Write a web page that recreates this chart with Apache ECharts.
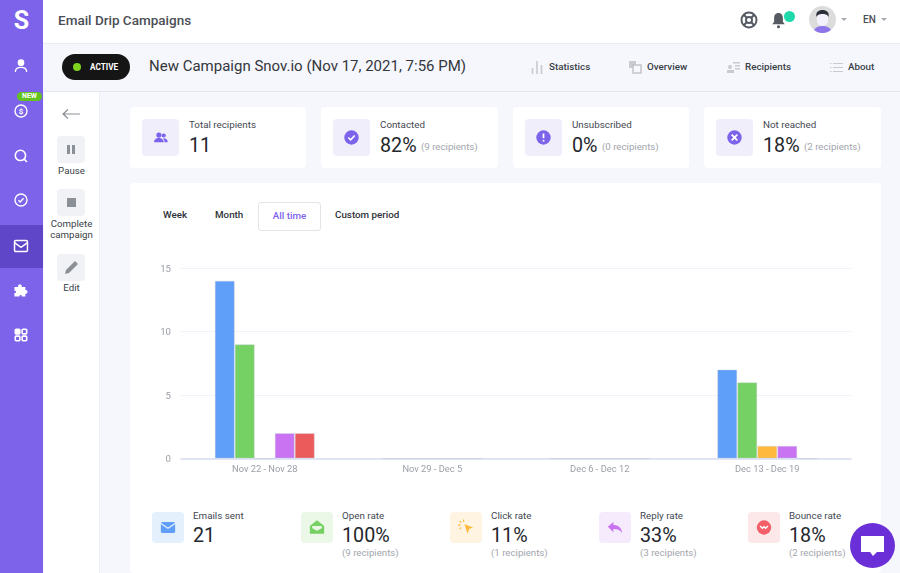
<!DOCTYPE html>
<html>
<head>
<meta charset="utf-8">
<title>Email Drip Campaigns</title>
<script src="https://cdn.jsdelivr.net/npm/echarts@6/dist/echarts.min.js"></script>
<style>
  html, body { margin: 0; padding: 0; width: 900px; height: 573px; overflow: hidden; background: #f6f7fd; font-family: Roboto, sans-serif; color: #2b2f36; }
  .abs, .abs * { box-sizing: border-box; }
  .abs { position: absolute; white-space: nowrap; }
  .abs svg { display: block; }
  .side { left: 0; top: 0; width: 43px; height: 573px; background: #7d63ea; }
  .side svg { position: absolute; left: 13px; width: 16px; height: 16px; }
  .head { left: 43px; top: 0; width: 857px; height: 44px; background: #fff; border-bottom: 1px solid #e8eaf2; }
  .sub { left: 43px; top: 44px; width: 857px; height: 48px; border-bottom: 1px solid #e4e6ee; }
  .acts { left: 44px; top: 92px; width: 56px; height: 481px; background: #fff; border-right: 1px solid #eceef5; }
  .btn { left: 57px; width: 28px; height: 27px; background: #f1f2f6; border-radius: 4px; }
  .lbl { font-size: 9.7px; line-height: 11px; text-align: center; left: 44px; width: 55px; color: #3a3f47; }
  .nav { font-size: 9.8px; font-weight: 500; color: #3a3f47; top: 61px; }
  .card { background: #fff; border-radius: 4px; }
  .box { border-radius: 4px; }
  .ttl { font-size: 9.8px; color: #444952; }
  .val { font-size: 19.7px; color: #24272c; }
  .note { font-size: 9.7px; color: #a2a6ad; }
  #chart { position: absolute; left: 130px; top: 183px; width: 751px; height: 390px; }
</style>
</head>
<body>
<div id="page"></div>
<div id="chart"></div>
<script>
// chart data
const weeks = ['Nov 22 - Nov 28', 'Nov 29 - Dec 5', 'Dec 6 - Dec 12', 'Dec 13 - Dec 19'];
const emailsSent = [14, 0, 0, 7];
const opened = [9, 0, 0, 6];
const clicked = [0, 0, 0, 1];
const replied = [2, 0, 0, 1];
const bounced = [2, 0, 0, 0];
const seriesNames = ['Emails sent', 'Open rate', 'Click rate', 'Reply rate', 'Bounce rate'];
const seriesColors = ['#5f9ef9', '#76d164', '#ffb93d', '#c973f2', '#ec5b5b'];
const yTicks = [0, 5, 10, 15];

// stat cards
const topTitles = ['Total recipients', 'Contacted', 'Unsubscribed', 'Not reached'];
const topValues = ['11', '82%', '0%', '18%'];
const topNotes = ['', '(9 recipients)', '(0 recipients)', '(2 recipients)'];
const bottomValues = ['21', '100%', '11%', '33%', '18%'];
const bottomNotes = ['', '(9 recipients)', '(1 recipients)', '(3 recipients)', '(2 recipients)'];

const page = document.getElementById('page');
function add(cls, style, html) {
  const el = document.createElement('div');
  el.className = 'abs ' + cls;
  el.style.cssText = style;
  el.innerHTML = html || '';
  page.appendChild(el);
  return el;
}

// sidebar
add('side', '', `
  <div style="position:absolute;left:0;top:225px;width:43px;height:43px;background:#5f45c8"></div>
  <div style="position:absolute;left:0;top:0;width:43px;text-align:center;font:700 25px/41px Roboto;color:#fff">S</div>
  <svg style="top:58px" viewBox="0 0 24 24" fill="none" stroke="#fff" stroke-width="2"><circle cx="12" cy="7" r="4" fill="#fff"/><path d="M3.5 21c0-5 4-7 8.5-7s8.5 2 8.5 7"/></svg>
  <div style="position:absolute;left:17px;top:92px;width:25px;height:9px;background:#62c21e;border-radius:5px;color:#fff;font:700 7px/9px Roboto;text-align:center">NEW</div>
  <svg style="top:103px" viewBox="-2 -2 28 28" fill="none" stroke="#fff" stroke-width="2.4"><circle cx="12" cy="12" r="10.5"/><text x="12" y="17" text-anchor="middle" font-size="14" font-weight="700" fill="#fff" stroke="none" font-family="Roboto">$</text></svg>
  <svg style="top:148px" viewBox="-2 -2 28 28" fill="none" stroke="#fff" stroke-width="2.8"><circle cx="11" cy="11" r="9"/><path d="M17.5 17.5l5 5"/></svg>
  <svg style="top:192px" viewBox="-2 -2 28 28" fill="none" stroke="#fff" stroke-width="2.4"><circle cx="12" cy="12" r="10.5"/><path d="M7.5 12.5l3 3 6-6.500"/></svg>
  <svg style="top:238px" viewBox="-1 -1 26 26" fill="none" stroke="#fff" stroke-width="2.4"><rect x="1.5" y="3" width="21" height="18" rx="2"/><path d="M2 7l10 7 10-7"/></svg>
  <svg style="top:282px" viewBox="1 1 22 22" fill="#fff"><path d="M3 8h5c-1-5 6-5 5 0h5v4c4-1 4 6 0 5v4h-5c1-3-4-3-3 0H3v-5c3 1 3-4 0-3z"/></svg>
  <svg style="top:327px" viewBox="-2 -2 28 28" fill="none" stroke="#fff" stroke-width="2.8"><rect x="2" y="2" width="8" height="8" rx="1.5" fill="#fff"/><rect x="14" y="2" width="8" height="8" rx="1.5"/><rect x="2" y="14" width="8" height="8" rx="1.5"/><rect x="14" y="14" width="8" height="8" rx="1.5"/></svg>
`);

// header
add('head', '');
add('', 'left:58px;top:12px;font:500 13.5px/17px Roboto;color:#4b4e55', 'Email Drip Campaigns');
add('', 'left:740px;top:11px;width:18px;height:18px', '<svg width="18" height="18" viewBox="0 0 24 24" fill="none" stroke="#555a63" stroke-width="2.6"><circle cx="12" cy="12" r="10"/><circle cx="12" cy="12" r="4"/><path d="M5 5l4 4M19 5l-4 4M5 19l4-4M19 19l-4-4"/></svg>');
add('', 'left:771px;top:12px;width:15px;height:17px', '<svg width="15" height="17" viewBox="0 0 24 26" fill="#555a63"><path d="M12 1c5 0 7 4 7 8v6l3 4H2l3-4V9c0-4 2-8 7-8z"/><circle cx="12" cy="23" r="2.5"/></svg>');
add('', 'left:784px;top:11px;width:11px;height:11px;border-radius:50%;background:#1fd9aa');
add('', 'left:809px;top:6px;width:27px;height:27px', '<svg width="27" height="27" viewBox="0 0 27 27"><defs><clipPath id="av"><circle cx="13.5" cy="13.5" r="13.5"/></clipPath></defs><g clip-path="url(#av)"><rect width="27" height="27" fill="#dcdcdc"/><ellipse cx="13.5" cy="25" rx="8.5" ry="5" fill="#8f75ea"/><rect x="8" y="6" width="11" height="14" rx="5" fill="#f3f1fb"/><path d="M7.5 11c-1-5 2-7 6-7s7 2 6 7c-1-2-2-3-6-3s-5 1-6 3z" fill="#2b2f3a"/></g></svg>');
add('', 'left:841px;top:18px;width:0;height:0;border:3px solid transparent;border-top:3px solid #a4a7ae');
add('', 'left:863px;top:13px;font:500 10px/14px Roboto;color:#4a4e55', 'EN');
add('', 'left:881px;top:18px;width:0;height:0;border:3px solid transparent;border-top:3px solid #a4a7ae');

// campaign bar
add('sub', '');
add('', 'left:62px;top:54px;width:68px;height:26px;border-radius:13px;background:#151515;color:#fff;font:700 8.2px/26px Roboto;padding-left:28px', 'ACTIVE');
add('', 'left:73px;top:63px;width:8px;height:8px;border-radius:50%;background:#7ed321');
add('', 'left:149px;top:56px;font:400 15px/20px Roboto;color:#33363c', 'New Campaign Snov.io (Nov 17, 2021, 7:56 PM)');
const navLabels = ['Statistics', 'Overview', 'Recipients', 'About'];
const navX = [549, 647, 745, 848];
navLabels.forEach((t, i) => add('nav', `left:${navX[i]}px`, t));
add('', 'left:531px;top:60px', '<svg width="12" height="14" stroke="#c8cacf" stroke-width="1.6"><path d="M1.5 14V8M6 14V1M10.5 14V5"/></svg>');
add('', 'left:629px;top:61px', '<svg width="13" height="13" fill="none"><rect x="0" y="0" width="7" height="7" fill="#c8cacf"/><rect x="4" y="4" width="8" height="8" fill="#f6f7fd" stroke="#bfc1c7" stroke-width="1.4"/></svg>');
add('', 'left:727px;top:62px', '<svg width="13" height="11" fill="#c8cacf"><circle cx="3" cy="5" r="2"/><rect x="0" y="8" width="7" height="3"/><rect x="6" y="0" width="7" height="1.5"/><rect x="8" y="3" width="5" height="1.5"/><rect x="8" y="6" width="5" height="1.5"/></svg>');
add('', 'left:830px;top:62px', '<svg width="13" height="11" stroke="#c8cacf" stroke-width="1.2"><path d="M3 1.5h10M3 5.5h10M3 9.5h10M0 1.5h1.5M0 5.5h1.5M0 9.5h1.5"/></svg>');

// action column
add('acts', '');
add('', 'left:62px;top:108px', '<svg width="18" height="12" fill="none" stroke="#8b8f96" stroke-width="1.2"><path d="M18 6H1M6 1.5L1 6l5 4.5"/></svg>');
add('btn', 'top:136px', '<svg width="28" height="27" fill="#8b8f96"><rect x="10" y="9" width="3" height="9"/><rect x="15" y="9" width="3" height="9"/></svg>');
add('lbl', 'top:165px', 'Pause');
add('btn', 'top:189px', '<svg width="28" height="27" fill="#8b8f96"><rect x="10" y="9" width="9" height="9"/></svg>');
add('lbl', 'top:218px', 'Complete<br>campaign');
add('btn', 'top:254px', '<svg width="28" height="27" viewBox="0 0 28 27" fill="#8b8f96"><path d="M8 20l1-4 9-9 3 3-9 9z"/></svg>');
add('lbl', 'top:282px', 'Edit');

// top cards
const cardX = [130, 321, 513, 704];
const cardW = [176, 177, 176, 177];
const noteOffset = [0, 100, 89, 100];
const topGlyphs = [
  '<circle cx="10" cy="9" r="3.2" fill="#7d63ea"/><circle cx="16" cy="9.5" r="2.6" fill="#7d63ea"/><path d="M4 18c0-7 12-7 12 0zM17 18c0-3-1-4-2-5 3-.5 6 1 6 5z" fill="#7d63ea"/>',
  '<circle cx="12" cy="12" r="9" fill="#7d63ea"/><path d="M8 12l3 3 5-5.5" fill="none" stroke="#fff" stroke-width="2"/>',
  '<circle cx="12" cy="12" r="9" fill="#7d63ea"/><path d="M12 7v6M12 15v2" stroke="#fff" stroke-width="2.2"/>',
  '<circle cx="12" cy="12" r="9" fill="#7d63ea"/><path d="M8.5 8.5l7 7M15.5 8.5l-7 7" stroke="#fff" stroke-width="2.2"/>'
];
cardX.forEach((x, i) => {
  add('card', `left:${x}px;top:107px;width:${cardW[i]}px;height:61px`);
  add('box', `left:${x + 12}px;top:119px;width:37px;height:37px;background:#f0eefb`,
    `<svg width="37" height="37" viewBox="-11 -11 46 46">${topGlyphs[i]}</svg>`);
  add('ttl', `left:${x + 59}px;top:118px;line-height:14px`, topTitles[i]);
  add('val', `left:${x + 59}px;top:134px;line-height:23px`, topValues[i]);
  if (topNotes[i]) {
    add('note', `left:${x + noteOffset[i]}px;top:140px;line-height:13px`, topNotes[i]);
  }
});

// chart card and period tabs
add('card', 'left:130px;top:183px;width:751px;height:390px');
add('', 'left:163px;top:208px;font:500 9.8px/14px Roboto;color:#2e3138', 'Week');
add('', 'left:215px;top:208px;font:500 9.8px/14px Roboto;color:#2e3138', 'Month');
add('', 'left:258px;top:202px;width:63px;height:29px;background:#fff;border:1px solid #e2e4ea;border-radius:3px;text-align:center;font:500 9.8px/26px Roboto;color:#7d63ea', 'All time');
add('', 'left:335px;top:208px;font:500 9.8px/14px Roboto;color:#2e3138', 'Custom period');

// bottom stats
const statX = [152, 301, 450, 599, 748];
const statBg = ['#e5f0fd', '#ebf8e8', '#fff4e2', '#f6eafd', '#fce8e8'];
const statGlyphs = [
  '<rect x="3" y="5" width="18" height="14" rx="2" fill="#5f9ef9"/><path d="M3 7l9 6 9-6" fill="none" stroke="#e5f0fd" stroke-width="1.4"/>',
  '<path d="M3 10l9-7 9 7v10H3z" fill="#76d164"/><path d="M6 10h12v3l-6 3-6-3z" fill="#ebf8e8"/>',
  '<path d="M10 8l11 4-5 2-2 6z" fill="#ffb93d"/><path d="M4 4l2 2M9 2v3M2 9h3M4 14l2-2" stroke="#ffb93d" stroke-width="1.4"/>',
  '<path d="M10 5v4c6 0 10 3 11 10-3-4-6-5-11-5v4L3 11z" fill="#c973f2"/>',
  '<circle cx="12" cy="12" r="9" fill="#f25f68"/><path d="M7 10l3 3 2-2 2 2 3-3" fill="none" stroke="#fff" stroke-width="1.8"/>'
];
statX.forEach((x, i) => {
  add('box', `left:${x}px;top:512px;width:32px;height:31px;background:${statBg[i]}`,
    `<svg width="32" height="31" viewBox="-8 -7.5 40 39">${statGlyphs[i]}</svg>`);
  add('ttl', `left:${x + 41}px;top:508px;line-height:15px`, seriesNames[i]);
  add('val', `left:${x + 41}px;top:524px;line-height:24px`, bottomValues[i]);
  if (bottomNotes[i]) add('note', `left:${x + 41}px;top:546px;line-height:13px`, bottomNotes[i]);
});

// chat bubble sits above the chart
add('', 'left:850px;top:523px;width:45px;height:45px;border-radius:50%;background:#6a2fd6;z-index:5',
  '<svg width="45" height="45" viewBox="0 0 45 45"><path d="M11 13h23v16h-7l-4 4-3-4h-9z" fill="#fff"/></svg>');

// bars
const seriesValues = [emailsSent, opened, clicked, replied, bounced];
const myChart = echarts.init(document.getElementById('chart'));
myChart.setOption({
  animation: false,
  grid: { left: 51, right: 30, top: 85, height: 190.5 },
  xAxis: {
    type: 'category',
    data: weeks,
    axisTick: { show: false },
    axisLine: { lineStyle: { color: '#d6ddf1', width: 1.5 } },
    axisLabel: { color: '#9a9ea6', fontFamily: 'Roboto', fontSize: 9.3, margin: 7 }
  },
  yAxis: {
    type: 'value',
    min: yTicks[0],
    max: yTicks[yTicks.length - 1],
    interval: 5,
    axisLine: { show: false },
    axisTick: { show: false },
    axisLabel: { color: '#9a9ea6', fontFamily: 'Roboto', fontSize: 9.6, margin: 10, verticalAlign: 'top', lineHeight: 3 },
    splitLine: { lineStyle: { color: '#f0f1f9', width: 1 } }
  },
  series: seriesValues.map((values, i) => ({
    name: seriesNames[i],
    type: 'bar',
    barWidth: 20,
    barGap: 0,
    data: values,
    itemStyle: { color: seriesColors[i], borderColor: 'rgba(195,200,212,0.35)', borderWidth: 1 }
  }))
});
</script>
</body>
</html>
